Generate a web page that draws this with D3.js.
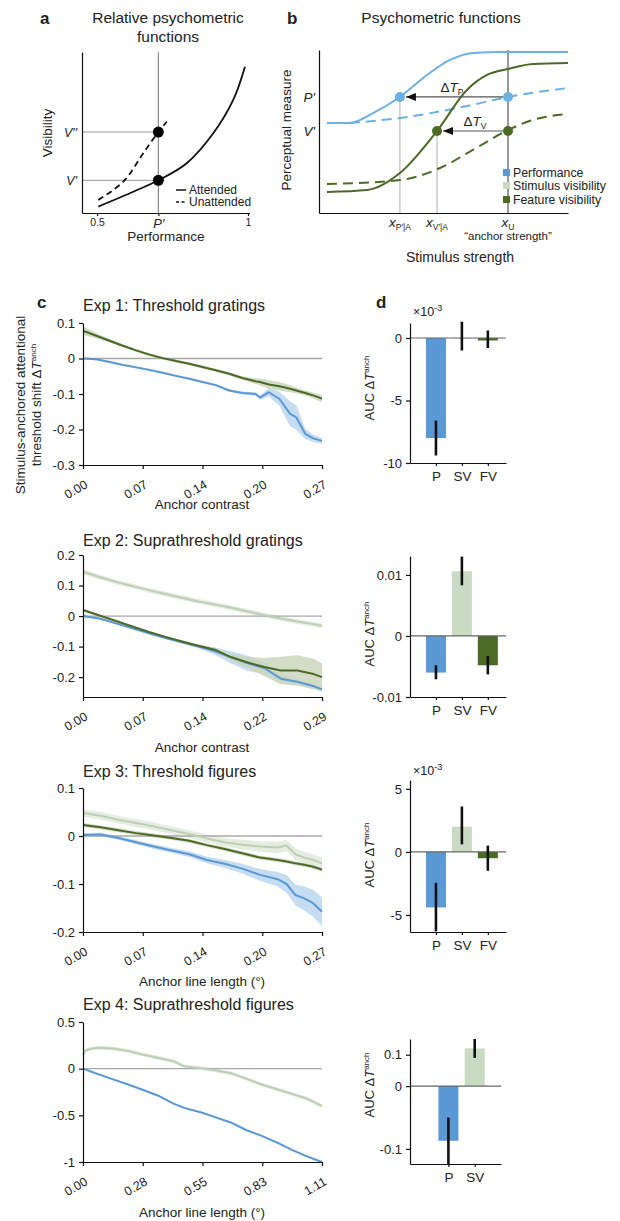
<!DOCTYPE html>
<html>
<head>
<meta charset="utf-8">
<script src="https://cdnjs.cloudflare.com/ajax/libs/d3/7.8.5/d3.min.js"></script>
<style>
  body { margin: 0; background: #fff; }
  text { font-family: "Liberation Sans", Arial, Helvetica, sans-serif; fill: #222; }
</style>
</head>
<body>
<script>
var FONT = '"Liberation Sans", Arial, Helvetica, sans-serif'

// ---------- panel a: relative psychometric functions ----------
var aAttPerf = [0.504, 0.62, 0.703, 0.797, 0.885, 0.951, 0.99]
var aAttVis = [0.04, 0.132, 0.203, 0.309, 0.495, 0.702, 0.909]
var aUnPerf = [0.504, 0.587, 0.653, 0.703, 0.731]
var aUnVis = [0.081, 0.195, 0.371, 0.503, 0.567]
var aPPrime = 0.703
var aV1 = 0.203
var aV2 = 0.503

// ---------- panel b: psychometric functions (stimulus strength, measure in %) ----------
var bPerfX = [3.2, 12.4, 21.7, 32.5, 43.4, 52.6, 61.8, 72.7, 100]
var bPerfY = [55.2, 55.2, 61.3, 71.2, 84.7, 93.9, 98.2, 98.8, 98.8]
var bPerfUnX = [12.4, 32.5, 59.4, 75.9, 100]
var bPerfUnY = [55.2, 58.3, 65.6, 71.2, 76.7]
var bFeatX = [3.2, 19.3, 32.5, 47.4, 59.4, 67.5, 75.9, 85.9, 100]
var bFeatY = [12.9, 14.1, 24.5, 50.3, 75.5, 84.7, 88.3, 91.4, 92.0]
var bFeatUnX = [3.2, 32.5, 48.6, 61.8, 75.9, 85.9, 100]
var bFeatUnY = [17.8, 20.2, 27.6, 38.7, 50.9, 57.1, 60.7]
var bPPrime = 71.2
var bVPrime = 50.3
var bXP = 32.5
var bXV = 47.4
var bXU = 75.9
var bLegend = ['Performance', 'Stimulus visibility', 'Feature visibility']

// ---------- panel c: anchored threshold shift curves ----------
var exp1Anchor = [0, 0.015, 0.03, 0.045, 0.06, 0.075, 0.09, 0.105, 0.12, 0.135, 0.15, 0.165, 0.18, 0.195, 0.2, 0.21, 0.222, 0.234, 0.241, 0.251, 0.26, 0.27]
var exp1P = [0, -0.002, -0.01, -0.018, -0.025, -0.032, -0.04, -0.049, -0.057, -0.066, -0.075, -0.09, -0.097, -0.1, -0.11, -0.095, -0.114, -0.156, -0.166, -0.212, -0.225, -0.232]
var exp1PSe = [0.003, 0.003, 0.003, 0.003, 0.003, 0.003, 0.003, 0.003, 0.003, 0.003, 0.003, 0.004, 0.004, 0.005, 0.006, 0.012, 0.02, 0.035, 0.035, 0.015, 0.01, 0.008]
var exp1FV = [0.078, 0.064, 0.05, 0.036, 0.023, 0.011, 0.001, -0.007, -0.015, -0.024, -0.033, -0.043, -0.055, -0.064, -0.066, -0.073, -0.078, -0.085, -0.09, -0.097, -0.104, -0.113]
var exp1FVSe = [0.012, 0.008, 0.005, 0.004, 0.004, 0.004, 0.004, 0.004, 0.004, 0.004, 0.004, 0.004, 0.005, 0.008, 0.01, 0.012, 0.012, 0.01, 0.008, 0.007, 0.008, 0.01]

var exp2Anchor = [0, 0.02, 0.04, 0.06, 0.08, 0.10, 0.12, 0.14, 0.16, 0.18, 0.20, 0.22, 0.24, 0.26, 0.28, 0.29]
var exp2SV = [0.145, 0.128, 0.112, 0.098, 0.085, 0.072, 0.06, 0.048, 0.038, 0.027, 0.015, 0.003, -0.008, -0.018, -0.027, -0.032]
var exp2SVSe = [0.008, 0.008, 0.008, 0.008, 0.008, 0.008, 0.008, 0.008, 0.008, 0.008, 0.008, 0.008, 0.008, 0.008, 0.008, 0.008]
var exp2FV = [0.02, 0.002, -0.016, -0.034, -0.052, -0.068, -0.083, -0.097, -0.11, -0.135, -0.152, -0.167, -0.178, -0.178, -0.19, -0.2]
var exp2FVSe = [0.005, 0.003, 0.003, 0.003, 0.003, 0.003, 0.004, 0.005, 0.006, 0.01, 0.018, 0.03, 0.045, 0.05, 0.05, 0.045]
var exp2P = [0, -0.008, -0.024, -0.04, -0.056, -0.072, -0.086, -0.1, -0.115, -0.135, -0.155, -0.17, -0.205, -0.215, -0.23, -0.24]
var exp2PSe = [0.003, 0.003, 0.003, 0.003, 0.003, 0.003, 0.004, 0.005, 0.012, 0.02, 0.025, 0.02, 0.012, 0.01, 0.008, 0.008]

var exp3Anchor = [0, 0.02, 0.04, 0.06, 0.08, 0.10, 0.12, 0.14, 0.16, 0.18, 0.20, 0.22, 0.23, 0.24, 0.25, 0.26, 0.27]
var exp3SV = [0.048, 0.042, 0.034, 0.027, 0.02, 0.012, 0.004, -0.005, -0.013, -0.018, -0.022, -0.024, -0.02, -0.038, -0.045, -0.05, -0.057]
var exp3SVSe = [0.008, 0.008, 0.008, 0.008, 0.008, 0.008, 0.008, 0.008, 0.009, 0.01, 0.011, 0.012, 0.012, 0.012, 0.012, 0.012, 0.012]
var exp3FV = [0.023, 0.018, 0.012, 0.006, 0.001, -0.004, -0.01, -0.019, -0.027, -0.036, -0.045, -0.05, -0.053, -0.057, -0.06, -0.064, -0.07]
var exp3FVSe = [0.004, 0.004, 0.004, 0.004, 0.004, 0.004, 0.004, 0.004, 0.004, 0.004, 0.004, 0.004, 0.004, 0.004, 0.004, 0.004, 0.004]
var exp3P = [0.002, 0.003, -0.004, -0.013, -0.022, -0.03, -0.038, -0.05, -0.058, -0.068, -0.081, -0.09, -0.1, -0.123, -0.13, -0.14, -0.158]
var exp3PSe = [0.004, 0.004, 0.004, 0.004, 0.005, 0.005, 0.006, 0.007, 0.008, 0.01, 0.012, 0.015, 0.018, 0.022, 0.025, 0.028, 0.03]

var exp4Anchor = [0, 0.01, 0.03, 0.07, 0.14, 0.21, 0.28, 0.35, 0.42, 0.47, 0.55, 0.62, 0.69, 0.76, 0.83, 0.90, 0.97, 1.04, 1.11]
var exp4SV = [0.15, 0.19, 0.21, 0.225, 0.215, 0.19, 0.15, 0.115, 0.08, 0.025, 0.005, -0.02, -0.05, -0.11, -0.17, -0.22, -0.27, -0.32, -0.4]
var exp4SVSe = [0.02, 0.02, 0.02, 0.02, 0.02, 0.02, 0.02, 0.02, 0.02, 0.02, 0.02, 0.02, 0.02, 0.02, 0.02, 0.02, 0.02, 0.02, 0.02]
var exp4P = [0, -0.008, -0.025, -0.058, -0.115, -0.17, -0.228, -0.29, -0.375, -0.42, -0.47, -0.525, -0.58, -0.66, -0.72, -0.79, -0.87, -0.94, -1.0]
var exp4PSe = [0.008, 0.008, 0.008, 0.008, 0.008, 0.008, 0.008, 0.008, 0.008, 0.008, 0.008, 0.008, 0.008, 0.008, 0.008, 0.008, 0.008, 0.008, 0.008]

var gratingTicks = ['0.00', '0.07', '0.14', '0.20', '0.27']
var supraTicks = ['0.00', '0.07', '0.14', '0.22', '0.29']
var figureTicks = ['0.00', '0.28', '0.55', '0.83', '1.11']

// ---------- panel d: AUC bars ----------
var aucCats = ['P', 'SV', 'FV']
var auc1 = [-8.0, -0.05, -0.2]
var auc1Lo = [-9.4, -1.0, -0.8]
var auc1Hi = [-6.6, 1.3, 0.6]
var auc2 = [-0.006, 0.0106, -0.0048]
var auc2Lo = [-0.0071, 0.0083, -0.0063]
var auc2Hi = [-0.0048, 0.013, -0.0033]
var auc3 = [-4.4, 2.0, -0.5]
var auc3Lo = [-6.3, 0.6, -1.5]
var auc3Hi = [-2.45, 3.6, 0.5]
var auc4 = [-0.087, 0.06]
var auc4Lo = [-0.124, 0.045]
var auc4Hi = [-0.05, 0.075]

// colours
var blue = '#5b98d6', blueB = '#6cb1e3', blueBand = '#bcd6ef'
var dark = '#4b6a26', darkBand = '#cbd6bd'
var light = '#bdd0b6', lightBand = '#e1eadc', lightBar = '#c9dbc2'
var barCols = [blue, lightBar, dark]

var svg = d3.select('body').append('svg')
  .attr('width', 620)
  .attr('height', 1221)

function label(g, x, y, s, size, opts) {
  opts = opts || {}
  var t = g.append('text')
    .attr('x', x)
    .attr('y', y)
    .attr('font-size', size)
    .attr('text-anchor', opts.anchor || 'start')
    .text(s)
  if (opts.bold) t.attr('font-weight', 'bold')
  if (opts.italic) t.attr('font-style', 'italic')
  if (opts.rotate) t.attr('transform', 'rotate(' + opts.rotate + ',' + x + ',' + y + ')')
  return t
}

function styleAxis(g, size) {
  g.attr('font-family', FONT).attr('font-size', size)
  g.selectAll('path, line').attr('stroke', '#111').attr('stroke-width', 1.2)
  g.selectAll('text').attr('fill', '#222')
}

// ---------------- panel a ----------------
function drawA() {
  var g = svg.append('g')
  var x = d3.scaleLinear().domain([0.45, 1.005]).range([82, 249.5])
  var y = d3.scaleLinear().domain([0, 1]).range([213, 52])

  label(g, 40, 24, 'a', 17, { bold: true })
  label(g, 168, 23, 'Relative psychometric', 15.5, { anchor: 'middle' })
  label(g, 168, 42, 'functions', 15.5, { anchor: 'middle' })

  // guides
  g.append('line').attr('x1', x(aPPrime)).attr('x2', x(aPPrime)).attr('y1', y(0)).attr('y2', y(1))
    .attr('stroke', '#8a8a8a').attr('stroke-width', 1.2)
  ;[aV1, aV2].forEach(function (v) {
    g.append('line').attr('x1', x(0.45)).attr('x2', x(aPPrime)).attr('y1', y(v)).attr('y2', y(v))
      .attr('stroke', '#9a9a9a').attr('stroke-width', 1)
  })

  var line = d3.line().x(function (d) { return x(d[0]) }).y(function (d) { return y(d[1]) }).curve(d3.curveCatmullRom)
  g.append('path').datum(d3.zip(aAttPerf, aAttVis)).attr('d', line)
    .attr('fill', 'none').attr('stroke', '#111').attr('stroke-width', 1.8)
  g.append('path').datum(d3.zip(aUnPerf, aUnVis)).attr('d', line)
    .attr('fill', 'none').attr('stroke', '#111').attr('stroke-width', 1.8).attr('stroke-dasharray', '6,4')

  ;[aV1, aV2].forEach(function (v) {
    g.append('circle').attr('cx', x(aPPrime)).attr('cy', y(v)).attr('r', 5.5).attr('fill', '#000')
  })

  var xa = g.append('g').attr('transform', 'translate(0,' + y(0) + ')')
    .call(d3.axisBottom(x).tickValues([0.5, aPPrime, 1]).tickSize(3).tickSizeOuter(0)
      .tickFormat(function (d) { return d === aPPrime ? 'P\u2032' : (d === 1 ? '1' : '0.5') }))
  styleAxis(xa, 10.5)
  xa.selectAll('text').filter(function (d) { return d === aPPrime })
    .attr('font-style', 'italic').attr('font-size', 13)
  var ya = g.append('g').attr('transform', 'translate(' + x(0.45) + ',0)')
    .call(d3.axisLeft(y).tickValues([aV1, aV2]).tickSize(0).tickPadding(5)
      .tickFormat(function (d) { return d === aV1 ? 'V\u2032' : 'V\u2032\u2032' }))
  styleAxis(ya, 12.5)
  ya.selectAll('text').attr('font-style', 'italic')

  label(g, 52, 133, 'Visibility', 13.5, { anchor: 'middle', rotate: -90 })
  label(g, 166, 241, 'Performance', 13.5, { anchor: 'middle' })

  // legend
  g.append('line').attr('x1', 176).attr('x2', 186).attr('y1', 190).attr('y2', 190).attr('stroke', '#111').attr('stroke-width', 1.5)
  g.append('line').attr('x1', 176).attr('x2', 186).attr('y1', 202).attr('y2', 202).attr('stroke', '#111').attr('stroke-width', 1.5).attr('stroke-dasharray', '3,2.5')
  label(g, 189, 194, 'Attended', 12)
  label(g, 189, 206, 'Unattended', 12)
}

// ---------------- panel b ----------------
function drawB() {
  var g = svg.append('g')
  var x = d3.scaleLinear().domain([0, 100]).range([319, 568])
  var y = d3.scaleLinear().domain([0, 100]).range([213, 50])

  label(g, 287, 24, 'b', 17, { bold: true })
  label(g, 441, 23, 'Psychometric functions', 15.5, { anchor: 'middle' })

  g.append('line').attr('x1', x(bXU)).attr('x2', x(bXU)).attr('y1', y(0)).attr('y2', y(100))
    .attr('stroke', '#555').attr('stroke-width', 1.2)
  g.append('line').attr('x1', x(bXP)).attr('x2', x(bXP)).attr('y1', y(0)).attr('y2', y(bPPrime))
    .attr('stroke', '#b0b0b0').attr('stroke-width', 1)
  g.append('line').attr('x1', x(bXV)).attr('x2', x(bXV)).attr('y1', y(0)).attr('y2', y(bVPrime))
    .attr('stroke', '#b0b0b0').attr('stroke-width', 1)

  var line = d3.line().x(function (d) { return x(d[0]) }).y(function (d) { return y(d[1]) }).curve(d3.curveMonotoneX)
  g.append('path').datum(d3.zip(bPerfUnX, bPerfUnY)).attr('d', line).attr('fill', 'none')
    .attr('stroke', blueB).attr('stroke-width', 2).attr('stroke-dasharray', '10,6')
  g.append('path').datum(d3.zip(bFeatUnX, bFeatUnY)).attr('d', line).attr('fill', 'none')
    .attr('stroke', dark).attr('stroke-width', 2).attr('stroke-dasharray', '10,6')
  g.append('path').datum(d3.zip(bPerfX, bPerfY)).attr('d', line).attr('fill', 'none')
    .attr('stroke', blueB).attr('stroke-width', 2)
  g.append('path').datum(d3.zip(bFeatX, bFeatY)).attr('d', line).attr('fill', 'none')
    .attr('stroke', dark).attr('stroke-width', 2)

  // arrows
  svg.append('defs').append('marker').attr('id', 'arr')
    .attr('viewBox', '0 -4 10 8').attr('refX', 10).attr('refY', 0)
    .attr('markerWidth', 10).attr('markerHeight', 8).attr('markerUnits', 'userSpaceOnUse')
    .attr('orient', 'auto')
    .append('path').attr('d', 'M0,-4L10,0L0,4Z').attr('fill', '#111')
  g.append('line').attr('x1', x(bXU) - 5).attr('x2', x(bXP) + 6).attr('y1', y(bPPrime)).attr('y2', y(bPPrime))
    .attr('stroke', '#555').attr('stroke-width', 1.2).attr('marker-end', 'url(#arr)')
  g.append('line').attr('x1', x(bXU) - 5).attr('x2', x(bXV) + 6).attr('y1', y(bVPrime)).attr('y2', y(bVPrime))
    .attr('stroke', '#555').attr('stroke-width', 1.2).attr('marker-end', 'url(#arr)')

  var dots = [[bXP, bPPrime, blueB], [bXU, bPPrime, blueB], [bXV, bVPrime, dark], [bXU, bVPrime, dark]]
  dots.forEach(function (d) {
    g.append('circle').attr('cx', x(d[0])).attr('cy', y(d[1])).attr('r', 5).attr('fill', d[2])
  })

  function dT(xp, yp, sub) {
    var t = g.append('text').attr('x', xp).attr('y', yp).attr('font-size', 13.5).attr('text-anchor', 'middle')
    t.append('tspan').text('\u0394')
    t.append('tspan').attr('font-style', 'italic').text('T')
    t.append('tspan').attr('font-size', 8.5).attr('dy', 3).text(sub)
  }
  dT(452, 92, 'P')
  dT(475, 126, 'V')

  // axes
  var xa = g.append('g').attr('transform', 'translate(0,' + y(0) + ')')
    .call(d3.axisBottom(x).tickValues([]).tickSizeOuter(0))
  styleAxis(xa, 11)
  var ya = g.append('g').attr('transform', 'translate(' + x(0) + ',0)')
    .call(d3.axisLeft(y).tickValues([bVPrime, bPPrime]).tickSize(0).tickPadding(4)
      .tickFormat(function (d) { return d === bPPrime ? 'P\u2032' : 'V\u2032' }))
  styleAxis(ya, 13.5)
  ya.selectAll('text').attr('font-style', 'italic')

  function xsub(v, sub) {
    var t = g.append('text').attr('x', x(v)).attr('y', 227).attr('font-size', 13.5).attr('text-anchor', 'middle')
    t.append('tspan').attr('font-style', 'italic').text('x')
    t.append('tspan').attr('font-size', 8.5).attr('dy', 3).text(sub)
  }
  xsub(bXP, 'P\u2032|A')
  xsub(bXV, 'V\u2032|A')
  xsub(bXU, 'U')
  label(g, x(bXU), 240, '\u201canchor strength\u201d', 11.5, { anchor: 'middle' })
  label(g, 460, 262, 'Stimulus strength', 14, { anchor: 'middle' })
  label(g, 291, 130, 'Perceptual measure', 13.5, { anchor: 'middle', rotate: -90 })

  // legend
  var lc = [blue, lightBar, dark]
  bLegend.forEach(function (s, i) {
    var ly = [173, 186, 200][i]
    g.append('rect').attr('x', 503).attr('y', ly - 4).attr('width', 7).attr('height', 7).attr('fill', lc[i])
    label(g, 513, ly + 4, s, 12.3)
  })
}

// ---------------- panel c ----------------
function linePanel(c) {
  var g = svg.append('g')
  var xMax = c.anchor[c.anchor.length - 1]
  var x = d3.scaleLinear().domain([0, xMax]).range([83, 322])
  var y = d3.scaleLinear().domain(c.yDomain).range([c.bottom, c.top])

  label(g, 83, c.titleY, c.title, 16)

  c.series.forEach(function (s) {
    var pts = c.anchor.map(function (v, i) { return { x: v, y: s.vals[i], e: s.se[i] } })
    g.append('path').datum(pts)
      .attr('d', d3.area().x(function (d) { return x(d.x) })
        .y0(function (d) { return y(d.y - d.e) }).y1(function (d) { return y(d.y + d.e) }))
      .attr('fill', s.band).attr('opacity', 0.85)
  })

  g.append('line').attr('x1', x(0)).attr('x2', x(xMax)).attr('y1', y(0)).attr('y2', y(0))
    .attr('stroke', '#a8a8a8').attr('stroke-width', 1.3)

  c.series.forEach(function (s) {
    var pts = c.anchor.map(function (v, i) { return [v, s.vals[i]] })
    g.append('path').datum(pts)
      .attr('d', d3.line().x(function (d) { return x(d[0]) }).y(function (d) { return y(d[1]) }))
      .attr('fill', 'none').attr('stroke', s.color).attr('stroke-width', 2)
      .attr('stroke-linejoin', 'round')
  })

  var ya = g.append('g').attr('transform', 'translate(' + x(0) + ',0)')
    .call(d3.axisLeft(y).tickValues(c.yTicks).tickSize(4).tickPadding(4).tickSizeOuter(0)
      .tickFormat(function (d) { return d === 0 ? '0' : String(d) }))
  styleAxis(ya, 13)

  var tickVals = c.xLabels.map(function (s, i) { return xMax * i / (c.xLabels.length - 1) })
  var xa = g.append('g').attr('transform', 'translate(0,' + y.range()[0] + ')')
    .call(d3.axisBottom(x).tickValues(tickVals).tickSize(4).tickSizeOuter(0)
      .tickFormat(function (d, i) { return c.xLabels[i] }))
  styleAxis(xa, 12.5)
  xa.selectAll('text').attr('x', 0).attr('y', 0).attr('dy', 0)
    .attr('text-anchor', 'end').attr('transform', 'translate(5,22) rotate(-30)')

  label(g, 202, c.xLabelY, c.xLabel, 13.5, { anchor: 'middle' })
}

// ---------------- panel d ----------------
function barPanel(c) {
  var g = svg.append('g')
  var x = d3.scaleLinear().domain(c.xDomain).range([410, c.right])
  var y = d3.scaleLinear().domain(c.yDomain).range([c.bottom, c.top])
  var n = c.vals.length

  c.vals.forEach(function (v, i) {
    g.append('rect')
      .attr('x', x(i + 1) - 10).attr('width', 20)
      .attr('y', Math.min(y(v), y(0))).attr('height', Math.abs(y(v) - y(0)))
      .attr('fill', barCols[i])
  })
  g.append('line').attr('x1', x.range()[0]).attr('x2', x.range()[1]).attr('y1', y(0)).attr('y2', y(0))
    .attr('stroke', '#666').attr('stroke-width', 1.2)
  c.vals.forEach(function (v, i) {
    g.append('line').attr('x1', x(i + 1)).attr('x2', x(i + 1))
      .attr('y1', y(c.lo[i])).attr('y2', y(c.hi[i]))
      .attr('stroke', '#111').attr('stroke-width', 2.6)
  })

  var ya = g.append('g').attr('transform', 'translate(' + x.range()[0] + ',0)')
    .call(d3.axisLeft(y).tickValues(c.yTicks).tickSize(4).tickPadding(4).tickSizeOuter(0)
      .tickFormat(function (d, i) { return c.yLabels[i] }))
  styleAxis(ya, 13)
  var xa = g.append('g').attr('transform', 'translate(0,' + c.bottom + ')')
    .call(d3.axisBottom(x).tickValues(d3.range(1, n + 1)).tickSize(3).tickPadding(5).tickSizeOuter(0)
      .tickFormat(function (d) { return aucCats[d - 1] }))
  styleAxis(xa, 13.5)

  var t = g.append('text').attr('x', 374).attr('y', c.labelY).attr('font-size', 13)
    .attr('text-anchor', 'middle').attr('transform', 'rotate(-90,374,' + c.labelY + ')')
  t.append('tspan').text('AUC  \u0394')
  t.append('tspan').attr('font-style', 'italic').text('T')
  t.append('tspan').attr('font-size', 8).attr('dy', -5).text('anch')

  if (c.exp) {
    var e = g.append('text').attr('x', 413).attr('y', c.expY).attr('font-size', 12.5)
    e.append('tspan').text('\u00d710')
    e.append('tspan').attr('font-size', 9).attr('dy', -5).text('-3')
  }
  if (c.letter) label(g, 376, c.letterY, c.letter, 17, { bold: true })
}

drawA()
drawB()

// panel c letter and shared y label
label(svg, 37, 308, 'c', 17, { bold: true })
var yl = svg.append('g')
label(yl, 25, 405, 'Stimulus-anchored attentional', 13.5, { anchor: 'middle', rotate: -90 })
var yl2 = yl.append('text').attr('x', 41).attr('y', 405).attr('font-size', 13.5)
  .attr('text-anchor', 'middle').attr('transform', 'rotate(-90,41,405)')
yl2.append('tspan').text('threshold shift  \u0394')
yl2.append('tspan').attr('font-style', 'italic').text('T')
yl2.append('tspan').attr('font-size', 8).attr('dy', -5).text('anch')

linePanel({
  title: 'Exp 1: Threshold gratings', titleY: 311,
  anchor: exp1Anchor, xLabels: gratingTicks, xLabel: 'Anchor contrast', xLabelY: 509,
  yDomain: [-0.3, 0.1], yTicks: [0.1, 0, -0.1, -0.2, -0.3], top: 323, bottom: 465,
  series: [
    { vals: exp1P, se: exp1PSe, color: blue, band: blueBand },
    { vals: exp1FV, se: exp1FVSe, color: dark, band: darkBand }
  ]
})
linePanel({
  title: 'Exp 2: Suprathreshold gratings', titleY: 546,
  anchor: exp2Anchor, xLabels: supraTicks, xLabel: 'Anchor contrast', xLabelY: 752,
  yDomain: [-0.265, 0.2], yTicks: [0.2, 0.1, 0, -0.1, -0.2], top: 555, bottom: 697,
  series: [
    { vals: exp2SV, se: exp2SVSe, color: light, band: lightBand },
    { vals: exp2P, se: exp2PSe, color: blue, band: blueBand },
    { vals: exp2FV, se: exp2FVSe, color: dark, band: darkBand }
  ]
})
linePanel({
  title: 'Exp 3: Threshold figures', titleY: 777,
  anchor: exp3Anchor, xLabels: gratingTicks, xLabel: 'Anchor line length (\u00b0)', xLabelY: 986,
  yDomain: [-0.2, 0.1], yTicks: [0.1, 0, -0.1, -0.2], top: 788, bottom: 932,
  series: [
    { vals: exp3SV, se: exp3SVSe, color: light, band: lightBand },
    { vals: exp3P, se: exp3PSe, color: blue, band: blueBand },
    { vals: exp3FV, se: exp3FVSe, color: dark, band: darkBand }
  ]
})
linePanel({
  title: 'Exp 4: Suprathreshold figures', titleY: 1010,
  anchor: exp4Anchor, xLabels: figureTicks, xLabel: 'Anchor line length (\u00b0)', xLabelY: 1217,
  yDomain: [-1, 0.5], yTicks: [0.5, 0, -0.5, -1], top: 1022, bottom: 1162,
  series: [
    { vals: exp4SV, se: exp4SVSe, color: light, band: lightBand },
    { vals: exp4P, se: exp4PSe, color: blue, band: blueBand }
  ]
})

barPanel({
  vals: auc1, lo: auc1Lo, hi: auc1Hi, xDomain: [0, 3.7], right: 506,
  yDomain: [-10, 1.2], yTicks: [0, -5, -10], yLabels: ['0', '-5', '-10'], top: 323, bottom: 463,
  labelY: 388, exp: true, expY: 316, letter: 'd', letterY: 308
})
barPanel({
  vals: auc2, lo: auc2Lo, hi: auc2Hi, xDomain: [0, 3.7], right: 506,
  yDomain: [-0.01, 0.0131], yTicks: [0.01, 0, -0.01], yLabels: ['0.01', '0', '-0.01'], top: 556, bottom: 697,
  labelY: 634
})
barPanel({
  vals: auc3, lo: auc3Lo, hi: auc3Hi, xDomain: [0, 3.7], right: 506,
  yDomain: [-6.35, 5.7], yTicks: [5, 0, -5], yLabels: ['5', '0', '-5'], top: 780, bottom: 932,
  labelY: 855, exp: true, expY: 775
})
barPanel({
  vals: auc4, lo: auc4Lo, hi: auc4Hi, xDomain: [-0.46, 3.0], right: 501,
  yDomain: [-0.124, 0.075], yTicks: [0.05, 0, -0.1], yLabels: ['0.1', '0', '-0.1'], top: 1039, bottom: 1164,
  labelY: 1085
})
</script>
</body>
</html>
